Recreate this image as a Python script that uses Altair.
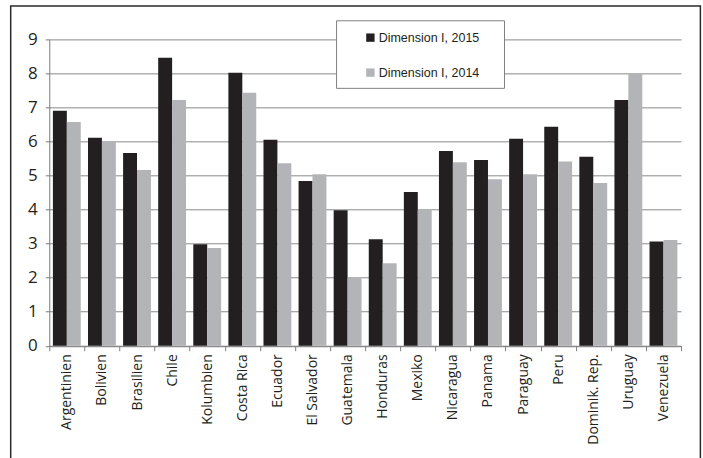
import altair as alt
import pandas as pd

countries = ["Argentinien", "Bolivien", "Brasilien", "Chile", "Kolumbien", "Costa Rica",
             "Ecuador", "El Salvador", "Guatemala", "Honduras", "Mexiko", "Nicaragua",
             "Panama", "Paraguay", "Peru", "Dominik. Rep.", "Uruguay", "Venezuela"]
dim_2015 = [6.90, 6.11, 5.66, 8.46, 2.98, 8.02, 6.05, 4.84, 3.98, 3.13, 4.52, 5.72,
            5.46, 6.08, 6.43, 5.55, 7.22, 3.06]
dim_2014 = [6.57, 6.01, 5.16, 7.22, 2.87, 7.43, 5.36, 5.04, 2.02, 2.42, 4.01, 5.39,
            4.89, 5.04, 5.41, 4.78, 8.00, 3.11]
series = ["Dimension I, 2015", "Dimension I, 2014"]
colors = ["#231f20", "#b3b4b7"]

rows = []
for c, a, b in zip(countries, dim_2015, dim_2014):
    rows.append({"Land": c, "Serie": series[0], "Wert": a})
    rows.append({"Land": c, "Serie": series[1], "Wert": b})
df = pd.DataFrame(rows)

W, H = 632, 306.5

bars = alt.Chart(df).mark_bar().encode(
    x=alt.X("Land:N", sort=countries,
            scale=alt.Scale(paddingInner=0, paddingOuter=0),
            axis=alt.Axis(title=None, labelAngle=-90, labelAlign="right", labelBaseline="middle",
                          labelPadding=3, tickSize=5, tickBand="extent", grid=False,
                          domainColor="#808080", tickColor="#808080",
                          labelFont="Open Sans", labelFontSize=14, labelColor="#231f20")),
    xOffset=alt.XOffset("Serie:N", sort=series,
                        scale=alt.Scale(paddingInner=0, paddingOuter=0.26)),
    y=alt.Y("Wert:Q", scale=alt.Scale(domain=[0, 9], nice=False),
            axis=alt.Axis(title=None, values=list(range(10)), grid=True,
                          gridColor="#8a8a8a", gridWidth=1, domainColor="#7a7a7a",
                          tickColor="#7a7a7a", tickSize=4, labelPadding=8,
                          labelFont="Open Sans", labelFontSize=17, labelColor="#231f20")),
    color=alt.Color("Serie:N", sort=series,
                    scale=alt.Scale(domain=series, range=colors),
                    legend=alt.Legend(title=None, orient="none", legendX=315, legendY=-8,
                                      padding=0, symbolType="square", symbolSize=70,
                                      symbolStrokeWidth=0, labelFont="Liberation Sans",
                                      labelFontSize=12.5, labelColor="#231f20",
                                      labelOffset=2, rowPadding=22)),
)

one = pd.DataFrame({"k": [0]})
legend_box = alt.Chart(one).mark_rect(fill="white", stroke="#808080", strokeWidth=1).encode(
    x=alt.value(287.4), x2=alt.value(455.4), y=alt.value(-18.6), y2=alt.value(49))

outer = alt.Chart(one).mark_rect(fill=None, stroke="#2a2a2a", strokeWidth=1.5).encode(
    x=alt.value(-38.6), x2=alt.value(651.4), y=alt.value(-33.3), y2=alt.value(440))

chart = alt.layer(bars, legend_box, outer).properties(
    width=W, height=H,
    autosize=alt.AutoSizeParams(type="none"),
    padding={"left": 49.3, "top": 39.3, "right": 22, "bottom": 112},
    background="white",
).configure_view(stroke=None)

chart.save("out.html", embed_options={"renderer": "svg", "actions": False})
